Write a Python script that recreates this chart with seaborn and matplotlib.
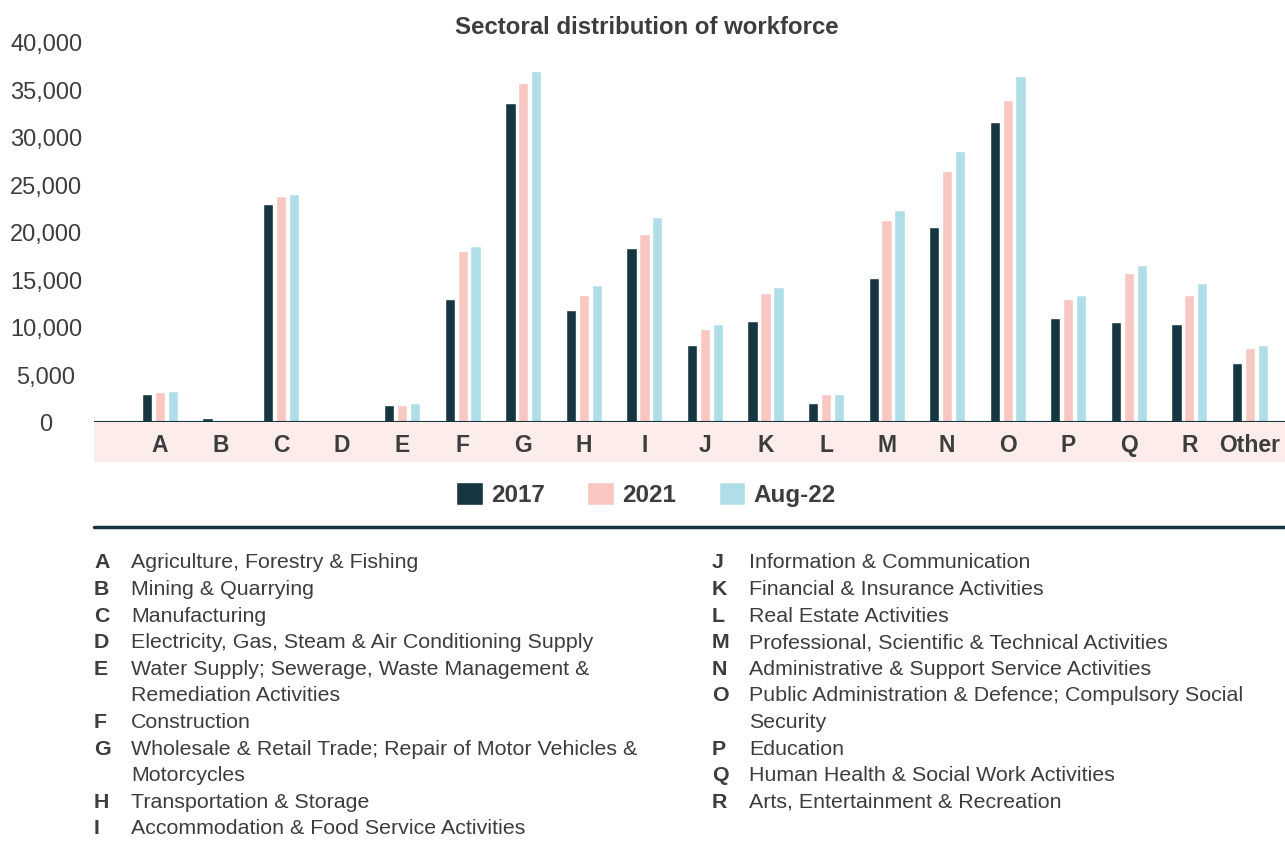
import matplotlib
matplotlib.use("Agg")
import matplotlib.pyplot as plt
from matplotlib.patches import Rectangle
from matplotlib.lines import Line2D
from matplotlib.ticker import FuncFormatter
import seaborn as sns
import pandas as pd

# ---- data -------------------------------------------------------------
sectors = ["A", "B", "C", "D", "E", "F", "G", "H", "I", "J",
           "K", "L", "M", "N", "O", "P", "Q", "R", "Other"]
workers_2017 = [2900, 450, 22900, 100, 1800, 12900, 33600, 11800, 18350, 8150,
                10650, 1950, 15200, 20550, 31600, 11000, 10550, 10350, 6250]
workers_2021 = [3200, 250, 23800, 250, 1800, 18050, 35700, 13400, 19800, 9800,
                13600, 2900, 21300, 26450, 33900, 12900, 15700, 13400, 7750]
workers_aug22 = [3300, 250, 24050, 250, 1950, 18550, 36900, 14450, 21600, 10350,
                 14250, 3000, 22350, 28550, 36450, 13400, 16550, 14650, 8150]
periods = ["2017", "2021", "Aug-22"]

key_left_codes = ["A", "B", "C", "D", "E", "F", "G", "H", "I"]
key_left_names = [
    "Agriculture, Forestry & Fishing",
    "Mining & Quarrying",
    "Manufacturing",
    "Electricity, Gas, Steam & Air Conditioning Supply",
    "Water Supply; Sewerage, Waste Management &\nRemediation Activities",
    "Construction",
    "Wholesale & Retail Trade; Repair of Motor Vehicles &\nMotorcycles",
    "Transportation & Storage",
    "Accommodation & Food Service Activities",
]
key_right_codes = ["J", "K", "L", "M", "N", "O", "P", "Q", "R"]
key_right_names = [
    "Information & Communication",
    "Financial & Insurance Activities",
    "Real Estate Activities",
    "Professional, Scientific & Technical Activities",
    "Administrative & Support Service Activities",
    "Public Administration & Defence; Compulsory Social\nSecurity",
    "Education",
    "Human Health & Social Work Activities",
    "Arts, Entertainment & Recreation",
]

# ---- styling ----------------------------------------------------------
DARK = "#163641"
PINK = "#F9C7C1"
BLUE = "#B0DEE8"
BAND = "#FCEDEB"
TEXT = "#3d3d3d"

sns.set_style("white")
plt.rcParams["font.family"] = ["Liberation Sans", "DejaVu Sans"]

df = pd.DataFrame({"sector": sectors, "2017": workers_2017,
                   "2021": workers_2021, "Aug-22": workers_aug22})
long_df = df.melt(id_vars="sector", value_vars=periods,
                  var_name="period", value_name="workers")

W, H = 1285, 854
fig = plt.figure(figsize=(W / 100, H / 100), dpi=100)
ax = fig.add_axes([94 / W, (H - 423) / H, 1 - 94 / W, 380 / H])

sns.barplot(data=long_df, x="sector", y="workers", hue="period",
            hue_order=periods, palette=[DARK, PINK, BLUE],
            width=0.64, gap=0.2, saturation=1, ax=ax)

ax.set_ylim(0, 40000)
ax.set_xlim(-1.09, 18.58)
ax.set_yticks(range(0, 40001, 5000))
ax.yaxis.set_major_formatter(FuncFormatter(lambda v, _: f"{v:,.0f}"))
ax.set_xlabel("")
ax.set_ylabel("")
for s in ax.spines.values():
    s.set_visible(False)
ax.grid(False)

ax.tick_params(axis="y", length=0, pad=34.5, labelsize=17, labelcolor=TEXT)
for lbl in ax.get_yticklabels():
    lbl.set_horizontalalignment("center")
ax.tick_params(axis="x", length=0, pad=8, labelsize=16.5, labelcolor=TEXT)
for lbl in ax.get_xticklabels():
    lbl.set_fontweight("bold")

# baseline and shaded category band
ax.axhline(0, color="#8c9ba0", lw=2.2, zorder=3)
ax.axhline(0, color=DARK, lw=1.5, zorder=3.1)
ax.add_patch(Rectangle((0, -40 / 380), 1, 40 / 380, transform=ax.transAxes,
                       clip_on=False, facecolor=BAND, edgecolor="none", zorder=0))

# legend
sns.move_legend(ax, "center", bbox_to_anchor=(646 / W, 1 - 495 / H),
                bbox_transform=fig.transFigure, ncol=3, frameon=False,
                title=None, fontsize=17.5, handlelength=1.1, handleheight=1.1,
                handletextpad=0.33, columnspacing=1.75)
for t in ax.get_legend().get_texts():
    t.set_fontweight("bold")
    t.set_color(TEXT)

# title
fig.text(647 / W, 1 - 27 / H, "Sectoral distribution of workforce",
         ha="center", va="center", fontsize=17.3, fontweight="bold", color=TEXT)

# separator rule
fig.add_artist(Line2D([94 / W, 1], [1 - 528 / H] * 2, transform=fig.transFigure,
                      color=DARK, lw=2.5))

# sector key
def draw_key(codes, names, x_code, x_name):
    y0, step = 563, 26.6
    line = 0
    for code, name in zip(codes, names):
        fig.text(x_code / W, 1 - (y0 + line * step) / H, code, ha="left",
                 va="center", fontsize=15.4, fontweight="bold", color=TEXT)
        for part in name.split("\n"):
            fig.text(x_name / W, 1 - (y0 + line * step) / H, part, ha="left",
                     va="center", fontsize=15.4, color=TEXT)
            line += 1

draw_key(key_left_codes, key_left_names, 94, 131)
draw_key(key_right_codes, key_right_names, 712, 749)

fig.savefig("out.png", dpi=100)
